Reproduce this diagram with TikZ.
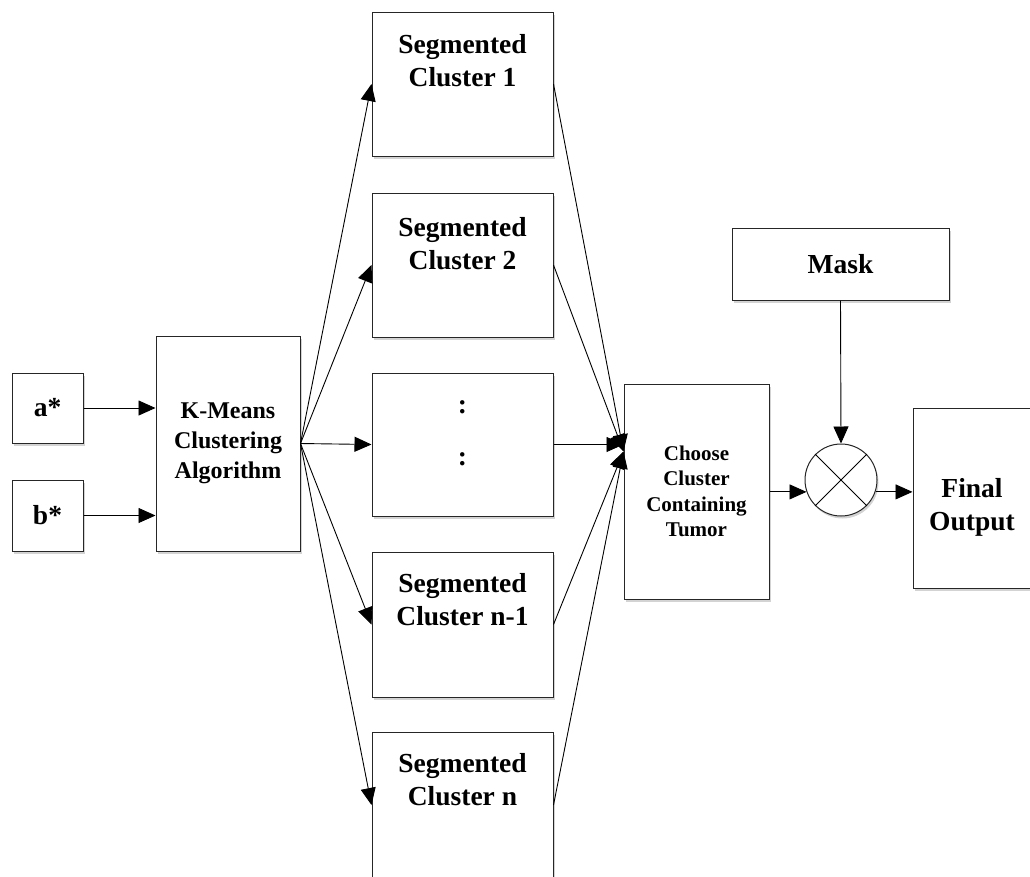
\documentclass[tikz,border=0pt]{standalone}
\usepackage{fontspec}
\setmainfont{Liberation Serif}
\usetikzlibrary{arrows.meta,shadows}
% text sizes used in the blocks
\newcommand\txtL{\bfseries\fontsize{27.5}{33}\selectfont}
\newcommand\txtM{\bfseries\fontsize{24}{30}\selectfont}
\newcommand\txtS{\bfseries\fontsize{21}{25.5}\selectfont}
\begin{document}
\begin{tikzpicture}[x=1pt,y=-1pt,
  box/.style={draw=black!85, line width=1pt, fill=white, inner sep=0pt, align=center,
    drop shadow={shadow xshift=1.5pt, shadow yshift=-2.5pt, opacity=0.35}},
  lbl/.style={inner sep=0pt, align=center},
  arr/.style={line width=0.9pt, -{Triangle[length=17pt,width=15pt]}}]
\useasboundingbox (0,0) rectangle (1030,876);

% inputs and clustering block
\node[box, minimum width=71pt, minimum height=70pt, font=\txtL] (a) at (47.5,408) {a*};
\node[box, minimum width=71pt, minimum height=71pt, font=\txtL] (b) at (47.5,515.5) {b*};
\node[box, minimum width=144pt, minimum height=215pt, font=\txtM] (km) at (228,443.5)
  {K-Means\\Clustering\\Algorithm};

% segmented clusters
\node[box, minimum width=181pt, minimum height=144pt] (c1) at (462.5,84) {};
\node[box, minimum width=181pt, minimum height=144pt] (c2) at (462.5,265) {};
\node[box, minimum width=181pt, minimum height=143pt] (cm) at (462.5,444.5) {};
\node[box, minimum width=181pt, minimum height=145pt] (cn1) at (462.5,624.5) {};
\node[box, minimum width=181pt, minimum height=146pt] (cn) at (462.5,805) {};

\node[lbl, font=\txtL] (c1t) at ([yshift=23pt]c1.center) {Segmented\\Cluster 1};
\node[lbl, font=\txtL] (c2t) at ([yshift=21pt]c2.center) {Segmented\\Cluster 2};
\node[lbl, font=\txtL] (cmt1) at ([yshift=37pt]cm.center) {:};
\node[lbl, font=\txtL] (cmt2) at ([yshift=-15pt]cm.center) {:};
\node[lbl, font=\txtL] (cn1t) at ([yshift=25pt]cn1.center) {Segmented\\Cluster n-1};
\node[lbl, font=\txtL] (cnt) at ([yshift=25pt]cn.center) {Segmented\\Cluster n};

% selection, mask, product and output
\node[box, minimum width=145pt, minimum height=215pt, font=\txtS] (choose) at (696.5,491.5)
  {Choose\\Cluster\\Containing\\Tumor};
\node[box, minimum width=217pt, minimum height=72pt, font=\txtL] (mask) at (840.5,264) {Mask};
\node[box, circle, minimum size=72pt] (circ) at (841,480) {};
\draw[line width=0.9pt] (circ.45) -- (circ.225) (circ.135) -- (circ.315);
\node[box, minimum width=127pt, minimum height=180pt] (final) at (976.5,498) {};
\node[lbl, font=\txtL] (finalt) at (972,507) {Final\\Output};

% connectors
\draw[arr] (a.east) -- (a.east -| km.west);
\draw[arr] (b.east) -- (b.east -| km.west);
\foreach \n in {c1,c2,cm,cn1,cn} \draw[arr] (km.east) -- (\n.west);

\coordinate (join) at ([yshift=40pt]choose.west);
\foreach \n in {c1,c2,cn1,cn} \draw[arr] (\n.east) -- (join);
\draw[arr] (cm.east) -- (cm.east -| choose.west);

\draw[arr] (mask.south) -- (circ.north);
\draw[arr] (choose.east |- circ.199) -- (circ.199);
\draw[arr] (circ.341) -- (circ.341 -| final.west);
\end{tikzpicture}
\end{document}
